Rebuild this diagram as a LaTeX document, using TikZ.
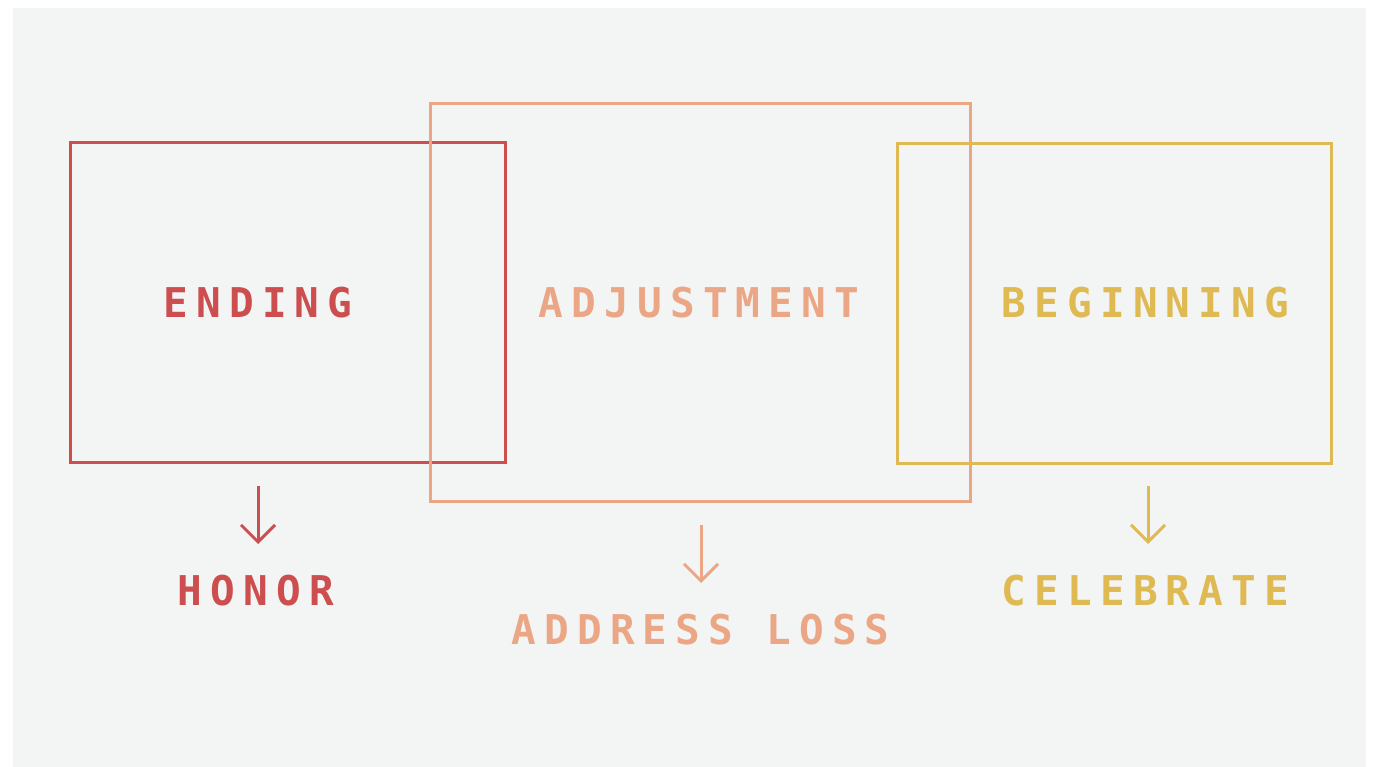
\documentclass[tikz,border=0pt]{standalone}
\usepackage{fontspec}
\usetikzlibrary{arrows.meta}
\newfontfamily\labelfont[LetterSpace=20]{DejaVu Sans Mono Bold}
\definecolor{bgpanel}{HTML}{F3F5F5}
\definecolor{endred}{HTML}{CD4E4E}
\definecolor{adjpeach}{HTML}{EBA785}
\definecolor{begyellow}{HTML}{DFB952}
\tikzset{
  phasebox/.style={draw=#1, line width=3pt},
  phaselabel/.style={text=#1, font=\labelfont\fontsize{41}{41}\selectfont, inner sep=0pt, anchor=center},
  outcome/.style={draw=#1, line width=3pt, -{Straight Barb[length=17pt,width=34pt,line width=3pt]}},
}
\begin{document}
\begin{tikzpicture}[x=1pt,y=-1pt]
  \useasboundingbox (0,0) rectangle (1377,767);
  \fill[white] (0,0) rectangle (1377,767);
  \fill[bgpanel] (13,8) rectangle (1366,767);

  % the three phases
  \draw[phasebox=endred] (70,143) rectangle (505,462);
  \draw[phasebox=adjpeach] (430,104) rectangle (970,501);
  \draw[phasebox=begyellow] (897,144) rectangle (1331,463);

  \node[phaselabel=endred] (ending) at (258,303) {ENDING};
  \node[phaselabel=adjpeach] (adjust) at (699,303) {ADJUSTMENT};
  \node[phaselabel=begyellow] (begin) at (1145.5,303) {BEGINNING};

  % what each phase calls for
  \coordinate (a1) at (258,486);
  \coordinate (a2) at (701,525);
  \coordinate (a3) at (1148,486);
  \node[phaselabel=endred] (honor) at (256,591) {HONOR};
  \node[phaselabel=adjpeach] (loss) at (700.5,630) {ADDRESS LOSS};
  \node[phaselabel=begyellow] (celebrate) at (1145.5,591) {CELEBRATE};

  \draw[outcome=endred] (a1) -- ++(0,58);
  \draw[outcome=adjpeach] (a2) -- ++(0,58);
  \draw[outcome=begyellow] (a3) -- ++(0,58);
\end{tikzpicture}
\end{document}
